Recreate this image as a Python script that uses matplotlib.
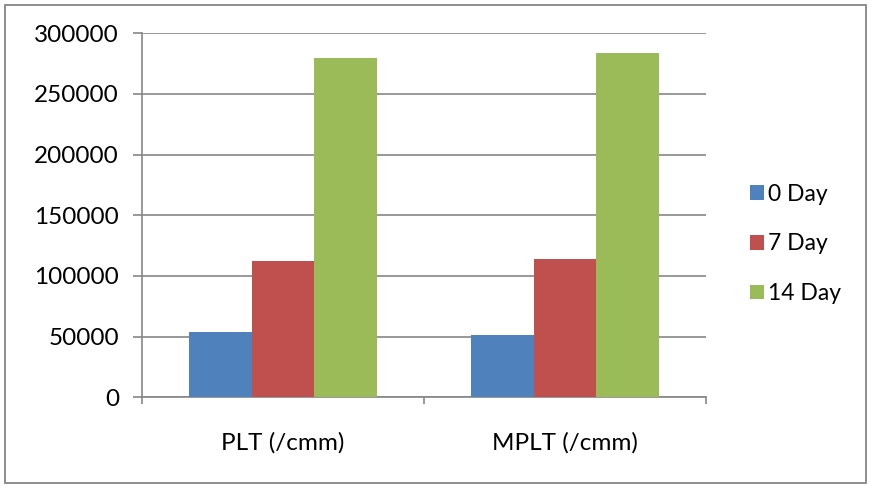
import matplotlib
matplotlib.use("Agg")
import matplotlib.pyplot as plt
import numpy as np
from matplotlib.patches import Rectangle

plt.rcParams['font.family'] = ['Lato', 'DejaVu Sans']

categories = ["PLT (/cmm)", "MPLT (/cmm)"]
series_names = ["0 Day", "7 Day", "14 Day"]
day0 = [53600, 51000]
day7 = [112000, 114000]
day14 = [280000, 284000]
series_values = [day0, day7, day14]
colors = ["#4F81BD", "#C0504D", "#9BBB59"]
y_ticks = [0, 50000, 100000, 150000, 200000, 250000, 300000]

W, H = 874, 486
fig = plt.figure(figsize=(W / 100, H / 100), dpi=100)
ax = fig.add_axes([142 / W, 1 - 397.3 / H, (706 - 142) / W, (397.3 - 33.3) / H])

x = np.arange(len(categories))
bw = 0.2216
for i, (name, vals, c) in enumerate(zip(series_names, series_values, colors)):
    ax.bar(x + (i - 1) * bw, vals, width=bw, color=c, label=name, zorder=3)

grid_c = "#868686"
ax.set_xlim(-0.5, len(categories) - 0.5)
ax.set_ylim(0, 300000)
ax.set_yticks(y_ticks)
ax.set_yticklabels([str(v) for v in y_ticks], fontsize=17.5)
ax.yaxis.grid(True, color=grid_c, linewidth=1.2, zorder=0)

ax.set_xticks(x)
ax.set_xticklabels(categories, fontsize=17.5)
ax.tick_params(axis='x', which='major', length=0, pad=25)
ax.set_xticks(np.arange(-0.5, len(categories)), minor=True)
ax.tick_params(axis='x', which='minor', length=5, width=1.2, color=grid_c, direction='out')
ax.tick_params(axis='y', length=6.5, width=1.2, color=grid_c, pad=10)

for side in ['top', 'right']:
    ax.spines[side].set_visible(False)
for side in ['left', 'bottom']:
    ax.spines[side].set_color(grid_c)
    ax.spines[side].set_linewidth(1.2)

leg = fig.legend(loc='center left', bbox_to_anchor=(741 / W, 1 - 244 / H),
                 frameon=False, fontsize=16.5, handlelength=0.6, handleheight=0.6,
                 handletextpad=0.2, labelspacing=1.25, borderaxespad=0)

fig.patches.append(Rectangle((5 / W, 1 - 483 / H), (866 - 5) / W, (483 - 5) / H,
                             transform=fig.transFigure, fill=False,
                             edgecolor=grid_c, linewidth=1.3))

fig.savefig("out.png", dpi=100)
